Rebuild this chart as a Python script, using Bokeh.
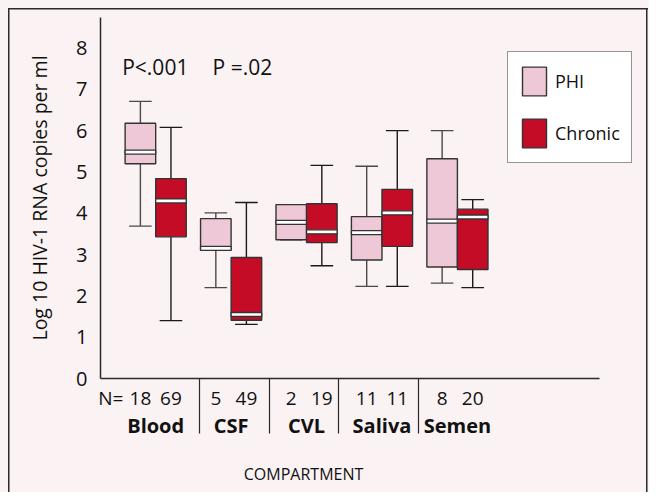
from bokeh.plotting import figure
from bokeh.models import (ColumnDataSource, FixedTicker, Range1d, Label, LinearAxis)
from bokeh.embed import file_html
from bokeh.resources import INLINE

# ---------------- data ----------------
compartments = ["Blood", "CSF", "CVL", "Saliva", "Semen"]
n_phi = [18, 5, 2, 11, 8]
n_chronic = [69, 49, 19, 11, 20]

phi_lower = [3.69, 2.20, 3.36, 2.23, 2.31]
phi_q1 = [5.20, 3.11, 3.36, 2.87, 2.70]
phi_median = [5.48, 3.15, 3.78, 3.53, 3.81]
phi_q3 = [6.18, 3.87, 4.21, 3.92, 5.32]
phi_upper = [6.71, 4.01, 4.21, 5.14, 6.00]

chr_lower = [1.40, 1.31, 2.73, 2.23, 2.20]
chr_q1 = [3.43, 1.41, 3.29, 3.20, 2.64]
chr_median = [4.30, 1.55, 3.55, 4.01, 3.91]
chr_q3 = [4.84, 2.93, 4.23, 4.58, 4.10]
chr_upper = [6.08, 4.26, 5.16, 6.00, 4.33]

p_value_labels = ["P<.001", "P =.02"]
y_ticks = [0, 1, 2, 3, 4, 5, 6, 7, 8]
x_title = "COMPARTMENT"

# ---------------- style / layout ----------------
FONT = "Open Sans"
BG = "#FAF2F3"
DARK = "#2b2b2b"
TXT = "#111111"
PHI_FILL = "#EEC8D6"
CHR_FILL = "#C40C27"
OFF = 0.2026
BOX_W = 0.405
CAP_W = 0.30
X0, X1 = -0.7315, 6.427
separators = [0.575, 1.515, 2.430, 3.488]
n_label_pos = -0.594
title_pos = 1.96

line_bg = "linear-gradient(%s, %s)" % (DARK, DARK)
page_background = ", ".join([
    line_bg + " 7.5px 7.5px / 1.5px 100% no-repeat",
    line_bg + " 7.5px 7.5px / 640px 1.5px no-repeat",
    line_bg + " 646px 7.5px / 1.5px 100% no-repeat",
    BG,
])

p = figure(width=649, height=492, output_backend="svg", toolbar_location=None,
           x_range=Range1d(X0, X1), y_range=Range1d(0, 8.74),
           min_border_left=100, min_border_right=9, min_border_top=17,
           min_border_bottom=114,
           background_fill_color=BG, border_fill_color=None,
           outline_line_color=None)
p.styles = {"background": page_background}
p.grid.visible = False

# y axis
ya = p.yaxis[0]
ya.ticker = FixedTicker(ticks=y_ticks)
ya.major_tick_out = 0
ya.major_tick_in = 0
ya.minor_tick_out = 0
ya.minor_tick_in = 0
ya.major_label_standoff = 13
ya.major_label_text_font = FONT
ya.major_label_text_font_size = "20px"
ya.major_label_text_color = TXT
ya.axis_line_color = DARK
ya.axis_line_width = 1.5
ya.axis_label = "Log 10 HIV-1 RNA copies per ml"
ya.axis_label_text_font = FONT
ya.axis_label_text_font_size = "19.5px"
ya.axis_label_text_font_style = "normal"
ya.axis_label_text_color = TXT
ya.axis_label_standoff = 20

# x axis 1: N counts under each box, separators as long minor ticks
n_ticks = [n_label_pos] + [i - OFF for i in range(5)] + [i + OFF for i in range(5)]
n_texts = ["N="] + [str(v) for v in n_phi] + [str(v) for v in n_chronic]
xa = p.xaxis[0]
xa.ticker = FixedTicker(ticks=n_ticks, minor_ticks=separators)
xa.major_label_overrides = {t: s for t, s in zip(n_ticks, n_texts)}
xa.bounds = (X0, 5.879)
xa.major_tick_out = 0
xa.major_tick_in = 0
xa.minor_tick_out = 55
xa.minor_tick_in = 0
xa.minor_tick_line_color = DARK
xa.minor_tick_line_width = 1.2
xa.axis_line_color = DARK
xa.axis_line_width = 1.5
xa.major_label_standoff = -49
xa.major_label_text_font = FONT
xa.major_label_text_font_size = "19px"
xa.major_label_text_color = TXT

# x axis 2: compartment names
xb = LinearAxis(ticker=FixedTicker(ticks=list(range(5)), minor_ticks=[]),
                major_label_overrides={i: c for i, c in enumerate(compartments)},
                axis_line_color=None, major_tick_out=0, major_tick_in=0,
                minor_tick_out=0, minor_tick_in=0, major_label_standoff=-2,
                major_label_text_font=FONT, major_label_text_font_size="20px",
                major_label_text_font_style="bold", major_label_text_color=TXT)
p.add_layout(xb, "below")

# x axis 3: the axis title, placed where the original has it
xc = LinearAxis(ticker=FixedTicker(ticks=[title_pos], minor_ticks=[]),
                major_label_overrides={title_pos: x_title},
                axis_line_color=None, major_tick_out=0, major_tick_in=0,
                minor_tick_out=0, minor_tick_in=0, major_label_standoff=21,
                major_label_text_font=FONT, major_label_text_font_size="16px",
                major_label_text_color=TXT)
p.add_layout(xc, "below")

# ---------------- boxes ----------------
def series(offset, lower, q1, med, q3, upper):
    xs = [i + offset for i in range(len(compartments))]
    return ColumnDataSource(dict(
        x=xs,
        left=[x - BOX_W / 2 for x in xs], right=[x + BOX_W / 2 for x in xs],
        cl=[x - CAP_W / 2 for x in xs], cr=[x + CAP_W / 2 for x in xs],
        lower=lower, q1=q1, med=med, q3=q3, upper=upper))

for src, fill, wcol, label in [
        (series(-OFF, phi_lower, phi_q1, phi_median, phi_q3, phi_upper), PHI_FILL, "#4a4a4a", "PHI"),
        (series(OFF, chr_lower, chr_q1, chr_median, chr_q3, chr_upper), CHR_FILL, "#1a1a1a", "Chronic")]:
    p.segment(x0="x", y0="q3", x1="x", y1="upper", source=src, line_color=wcol, line_width=1.4)
    p.segment(x0="x", y0="q1", x1="x", y1="lower", source=src, line_color=wcol, line_width=1.4)
    p.segment(x0="cl", y0="upper", x1="cr", y1="upper", source=src, line_color=wcol, line_width=1.4)
    p.segment(x0="cl", y0="lower", x1="cr", y1="lower", source=src, line_color=wcol, line_width=1.4)
    p.quad(left="left", right="right", bottom="q1", top="q3", source=src,
           fill_color=fill, line_color="#333333", line_width=1.4, legend_label=label)
    p.rect(x="x", y="med", width=BOX_W, height=4, height_units="screen", source=src,
           fill_color="white", line_color="#333333", line_width=1.3)

for xx, t in zip([-0.005, 1.15], p_value_labels):
    p.add_layout(Label(x=xx, y=7.53, text=t, text_align="center", text_baseline="middle",
                       text_font=FONT, text_font_size="21px", text_color=TXT))

# ---------------- legend ----------------
lg = p.legend[0]
lg.location = (407, 215)
lg.glyph_width = 30
lg.glyph_height = 36
lg.label_height = 36
lg.spacing = 16
lg.padding = 11
lg.margin = 0
lg.label_standoff = 6
lg.label_text_font = FONT
lg.label_text_font_size = "18px"
lg.label_text_color = TXT
lg.border_line_color = DARK
lg.border_line_width = 1.5
lg.background_fill_color = "white"
lg.background_fill_alpha = 1.0

open("out.html", "w").write(file_html(p, INLINE))
